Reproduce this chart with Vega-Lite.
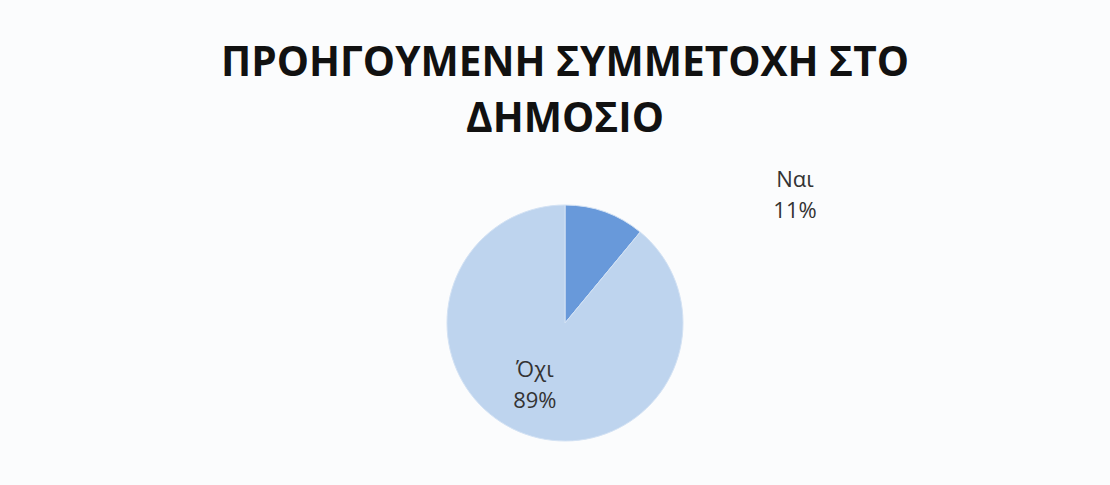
{
  "$schema": "https://vega.github.io/schema/vega-lite/v6.json",
  "width": 236,
  "height": 236,
  "autosize": "none",
  "padding": {"left": 447, "top": 205, "right": 427, "bottom": 44},
  "background": "#fbfcfd",
  "config": {"view": {"stroke": null}},
  "title": {
    "text": ["ΠΡΟΗΓΟΥΜΕΝΗ ΣΥΜΜΕΤΟΧΗ ΣΤΟ", "ΔΗΜΟΣΙΟ"],
    "anchor": "middle",
    "frame": "group",
    "font": "Open Sans",
    "fontSize": 40.6,
    "fontWeight": "bold",
    "color": "#111111",
    "offset": 28,
    "lineHeight": 56
  },
  "data": {"values": [
    {"answer": "Ναι", "percent": 11},
    {"answer": "Όχι", "percent": 89}
  ]},
  "transform": [{"calculate": "datum.answer + '\\n' + datum.percent + '%'", "as": "label"}],
  "encoding": {
    "theta": {"field": "percent", "type": "quantitative", "stack": true},
    "order": {"field": "percent", "type": "quantitative", "sort": "ascending"}
  },
  "layer": [
    {
      "mark": {"type": "arc", "outerRadius": 118, "stroke": "#d3e2f4", "strokeWidth": 1},
      "encoding": {
        "color": {
          "field": "answer",
          "type": "nominal",
          "scale": {"domain": ["Ναι", "Όχι"], "range": ["#6899da", "#bed4ee"]},
          "legend": null
        }
      }
    },
    {
      "mark": {"type": "text", "radius": 271, "thetaOffset": 0.668, "font": "Open Sans", "fontSize": 22, "lineBreak": "\n", "lineHeight": 31, "color": "#333333", "baseline": "middle", "align": "center"},
      "encoding": {"text": {"condition": {"test": "datum.answer === 'Ναι'", "field": "label"}, "value": ""}}
    },
    {
      "mark": {"type": "text", "radius": 56, "thetaOffset": 0.223, "font": "Open Sans", "fontSize": 22, "lineBreak": "\n", "lineHeight": 31, "color": "#333333", "baseline": "middle", "align": "center"},
      "encoding": {"text": {"condition": {"test": "datum.answer === 'Όχι'", "field": "label"}, "value": ""}}
    }
  ]
}
